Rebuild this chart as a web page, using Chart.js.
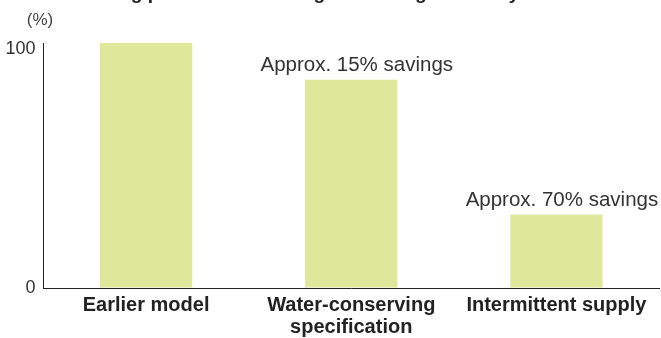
<!DOCTYPE html>
<html><head><meta charset="utf-8">
<script src="https://cdn.jsdelivr.net/npm/chart.js@4/dist/chart.umd.min.js"></script>
<style>html,body{margin:0;padding:0;background:#fff;overflow:hidden}#wrap{position:relative;width:661px;height:338px}</style>
</head><body><div id="wrap"><canvas id="c" width="661" height="338"></canvas></div>
<script>
const titleText = "Washing process water usage in rinsing shown by model";
const unitLabel = "(%)";
const categories = ["Earlier model", ["Water-conserving", "specification"], "Intermittent supply"];
const waterUse = [100, 85, 30];
const annotations = ["", "Approx. 15% savings", "Approx. 70% savings"];
const yTicks = [0, 100];

const FONT = '"Liberation Sans", Arial, Helvetica, sans-serif';

const overlay = {
  id: 'overlay',
  afterDraw(chart) {
    const ctx = chart.ctx;
    const y = chart.scales.y;
    ctx.save();
    // y tick labels
    ctx.fillStyle = '#333';
    ctx.font = '18px ' + FONT;
    ctx.textAlign = 'right';
    ctx.textBaseline = 'middle';
    yTicks.forEach(v => {
      const py = y.getPixelForValue(v) + (v === yTicks[yTicks.length - 1] ? 6.5 : 0.5);
      ctx.fillText(String(v), 35.5, py);
    });
    // unit label
    ctx.fillStyle = '#444';
    ctx.font = '17px ' + FONT;
    ctx.textAlign = 'center';
    ctx.fillText(unitLabel, 40, 20);
    // annotations
    const meta = chart.getDatasetMeta(0);
    ctx.fillStyle = '#333';
    ctx.font = '20.5px ' + FONT;
    ctx.textBaseline = 'alphabetic';
    annotations.forEach((t, i) => {
      if (!t) return;
      const bar = meta.data[i];
      ctx.fillText(t, bar.x + 5.5, bar.y - 9);
    });
    // title (cut off at top edge)
    ctx.fillStyle = '#222';
    ctx.font = 'bold 19px ' + FONT;
    ctx.textAlign = 'left';
    ctx.fillText(titleText, 64, -1);
    ctx.restore();
  }
};

new Chart(document.getElementById('c'), {
  type: 'bar',
  data: {
    labels: categories,
    datasets: [{
      data: waterUse,
      backgroundColor: '#dde89b',
      borderWidth: 0,
      barPercentage: 0.45,
      categoryPercentage: 1
    }]
  },
  options: {
    responsive: false,
    animation: false,
    devicePixelRatio: 1,
    layout: { padding: { top: 43, right: 2, left: 0, bottom: 0 } },
    plugins: { legend: { display: false }, tooltip: { enabled: false }, title: { display: false } },
    scales: {
      x: {
        afterFit(s) { s.height = 50; },
        grid: { display: true, drawOnChartArea: false, drawTicks: false, color: 'rgba(0,0,0,0)' },
        border: { display: true, color: '#222', width: 1 },
        ticks: {
          color: '#222',
          font: { family: FONT, size: 20, weight: 'bold', lineHeight: 1.07 },
          padding: 7,
          maxRotation: 0,
          minRotation: 0,
          autoSkip: false
        }
      },
      y: {
        min: 0,
        max: 100,
        afterFit(s) { s.width = 43.5; },
        grid: { display: true, drawOnChartArea: false, drawTicks: false, color: 'rgba(0,0,0,0)' },
        border: { display: true, color: '#222', width: 1 },
        ticks: { display: false }
      }
    }
  },
  plugins: [overlay]
});
</script>
</body></html>
